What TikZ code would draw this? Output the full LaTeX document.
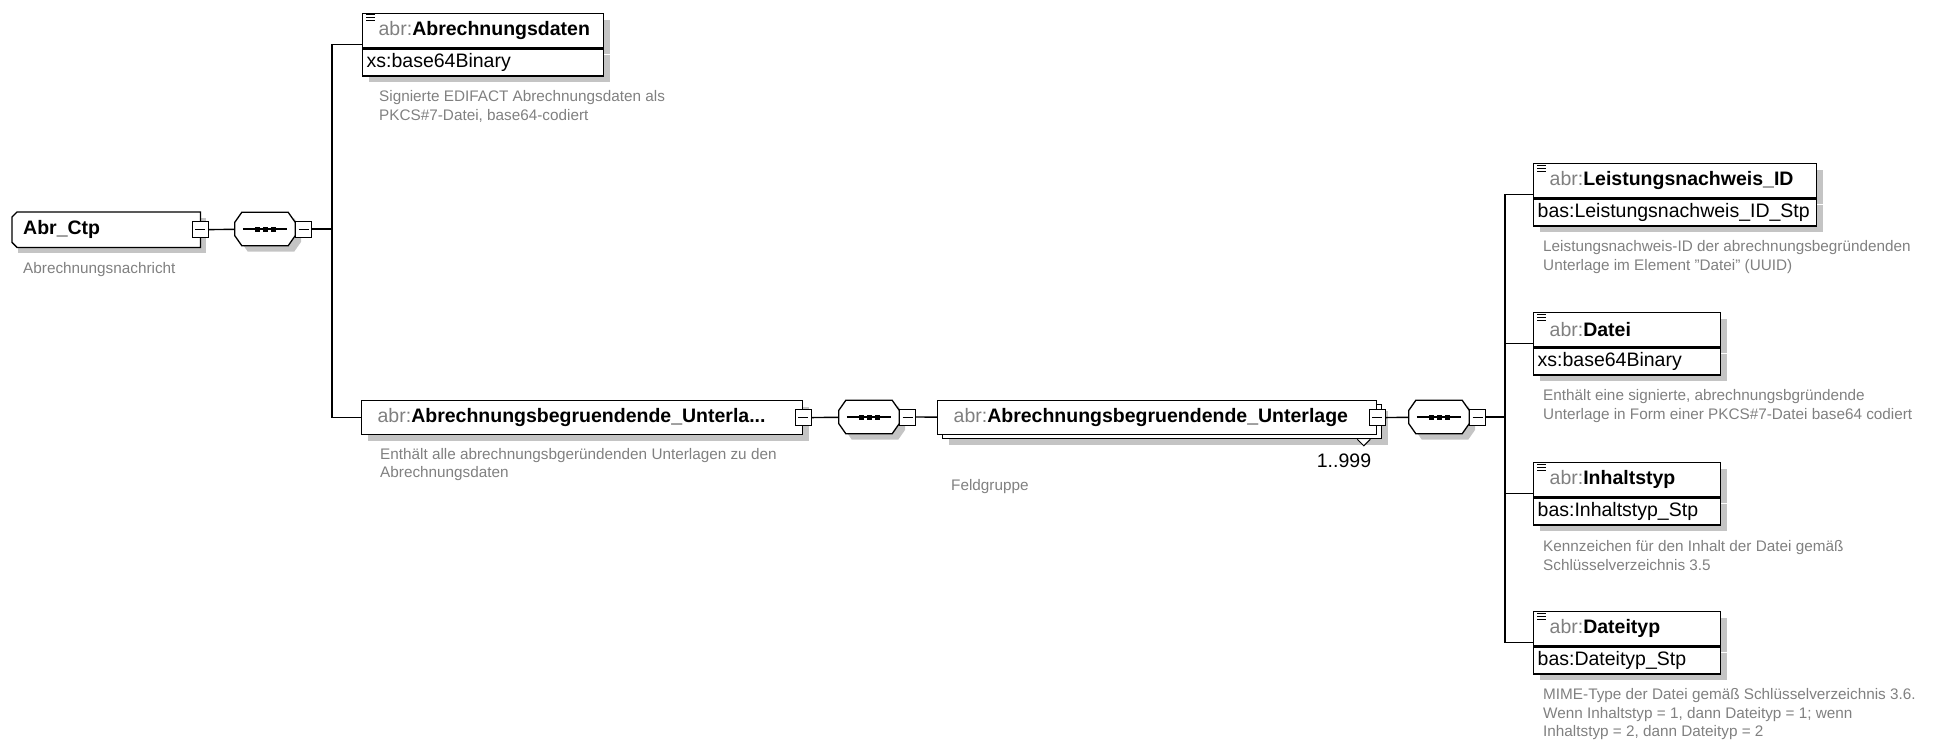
\documentclass[tikz,border=0pt]{standalone}
\usepackage{fontspec}
\setmainfont{Liberation Sans}
\usetikzlibrary{positioning,shadows}

\definecolor{descgray}{RGB}{128,128,128}
\definecolor{shadowgray}{RGB}{196,196,196}
\newcommand{\boxfont}{\fontsize{19.5}{23}\selectfont}
\newcommand{\descfont}{\fontsize{15.3}{18.3}\selectfont}
\newcommand{\abr}[1]{{\color{descgray}abr:}\textbf{#1}}

\tikzstyle{boxline}=[draw=black,line width=1.3pt]
\tikzstyle{conn}=[draw=black,line width=1.4pt]
\tikzstyle{shadowed}=[drop shadow={shadow xshift=6pt,shadow yshift=-6pt,fill=shadowgray,opacity=1}]
\tikzstyle{elbase}=[rectangle,boxline,fill=white,anchor=north west,text width=#1,inner xsep=0pt,inner ysep=0pt,minimum height=34pt,align=left,font=\boxfont,execute at begin node={\hspace*{16pt}}]
\tikzstyle{elhead}=[elbase=#1,shadowed]
\tikzstyle{eltype}=[rectangle,boxline,fill=white,shadowed,text width=#1,inner xsep=0pt,inner ysep=0pt,minimum height=27pt,align=left,font=\boxfont,execute at begin node={\hspace*{4pt}}]
\tikzstyle{rootbox}=[rectangle,fill=white,shadowed,anchor=north west,text width=188pt,inner xsep=0pt,inner ysep=0pt,minimum height=35pt,align=left,font=\boxfont\bfseries,execute at begin node={\hspace*{11pt}}]
\tikzstyle{seq}=[rectangle,minimum width=60pt,minimum height=33pt,inner sep=0pt]
\tikzstyle{btn}=[rectangle,draw=black,line width=1pt,fill=white,minimum size=16pt,inner sep=0pt,
  path picture={\draw[line width=1pt] ([xshift=3pt]path picture bounding box.west) -- ([xshift=-3pt]path picture bounding box.east);}]
\tikzstyle{desc}=[font=\descfont,text=descgray,align=left,inner sep=0pt]

\begin{document}
\begin{tikzpicture}[x=1pt,y=-1pt]
\useasboundingbox (0,0) rectangle (1934,741);

% root element
\node[rootbox] (root) at (12,212) {Abr\_Ctp};
\draw[boxline] (root.north east) -- ([xshift=5pt]root.north west) -- ([yshift=-5pt]root.north west)
  -- ([yshift=5pt]root.south west) -- ([xshift=5pt]root.south west) -- (root.south east) -- cycle;
\node[btn] (rootbtn) at (root.east) {};
\node[desc,below right=15pt and 11pt of root.south west] (rootdesc) {Abrechnungsnachricht};

% children of Abr_Ctp
\node[elhead=241pt] (daten) at (362,13) {\abr{Abrechnungsdaten}};
\node[eltype=241pt,below=0pt of daten] (datentyp) {xs:base64Binary};
\node[desc,below right=14pt and 17pt of datentyp.south west] (datendesc) {Signierte EDIFACT Abrechnungsdaten als\\PKCS\#7-Datei, base64-codiert};

\node[elhead=441pt] (unterla) at (361,400) {\abr{Abrechnungsbegruendende\_Unterla...}};
\node[btn] (unterlabtn) at (unterla.east) {};
\node[desc,below right=13pt and 19pt of unterla.south west] (unterladesc) {Enthält alle abrechnungsbgeründenden Unterlagen zu den\\Abrechnungsdaten};

% repeated group
\node[elbase=439pt,drop shadow={shadow xshift=11pt,shadow yshift=-10pt,fill=shadowgray,opacity=1},
  copy shadow={shadow xshift=5pt,shadow yshift=-4pt}] (unterlage) at (937,400) {\abr{Abrechnungsbegruendende\_Unterlage}};
\node[btn] (unterlagebtn) at (unterlage.east) {};
\draw[line width=1pt,fill=white] ([xshift=-20pt,yshift=-4pt]unterlage.south east) -- ++(6.5pt,-6.5pt) -- ++(6.5pt,6.5pt);
\node[anchor=north east,inner sep=0pt,font=\boxfont] (mult) at ([xshift=-6pt,yshift=-18pt]unterlage.south east) {1..999};
\node[desc,below right=44pt and 14pt of unterlage.south west] (unterlagedesc) {Feldgruppe};

% fields of the group
\node[elhead=283pt] (lnid) at (1533,163) {\abr{Leistungsnachweis\_ID}};
\node[eltype=283pt,below=0pt of lnid] (lnidtyp) {bas:Leistungsnachweis\_ID\_Stp};
\node[desc,below right=14pt and 10pt of lnidtyp.south west] (lniddesc) {Leistungsnachweis-ID der abrechnungsbegründenden\\Unterlage im Element "Datei" (UUID)};

\node[elhead=187pt] (datei) at (1533,312) {\abr{Datei}};
\node[eltype=187pt,below=0pt of datei] (dateityp) {xs:base64Binary};
\node[desc,below right=14pt and 10pt of dateityp.south west] (dateidesc) {Enthält eine signierte, abrechnungsbgründende\\Unterlage in Form einer PKCS\#7-Datei base64 codiert};

\node[elhead=187pt] (ityp) at (1533,462) {\abr{Inhaltstyp}};
\node[eltype=187pt,below=0pt of ityp] (itypt) {bas:Inhaltstyp\_Stp};
\node[desc,below right=15pt and 10pt of itypt.south west] (itypdesc) {Kennzeichen für den Inhalt der Datei gemäß\\Schlüsselverzeichnis 3.5};

\node[elhead=187pt] (dtyp) at (1533,611) {\abr{Dateityp}};
\node[eltype=187pt,below=0pt of dtyp] (dtypt) {bas:Dateityp\_Stp};
\node[desc,below right=14pt and 10pt of dtypt.south west] (dtypdesc) {MIME-Type der Datei gemäß Schlüsselverzeichnis 3.6.\\Wenn Inhaltstyp = 1, dann Dateityp = 1; wenn\\Inhaltstyp = 2, dann Dateityp = 2};

% list icons
\foreach \n in {daten,lnid,datei,ityp,dtyp}
  \foreach \k in {2pt,5pt,8pt}
    \draw[line width=1pt] ([xshift=4pt,yshift=-\k]\n.north west) -- ++(9pt,0);

% sequence compositors
\node[seq] (seqa) at (265,229) {};
\node[seq] (seqb) at (869,417) {};
\node[seq] (seqc) at (1439,417) {};
\foreach \s in {seqa,seqb,seqc}{
  \draw[boxline,fill=white,shadowed] ([xshift=7pt]\s.north west) -- ([xshift=-7pt]\s.north east)
    -- ([yshift=-10pt]\s.north east) -- ([yshift=10pt]\s.south east) -- ([xshift=-7pt]\s.south east)
    -- ([xshift=7pt]\s.south west) -- ([yshift=10pt]\s.south west) -- ([yshift=-10pt]\s.north west) -- cycle;
  \draw[line width=1.3pt] ([xshift=8pt]\s.west) -- ([xshift=-8pt]\s.east);
  \foreach \d in {-8pt,0pt,8pt}
    \fill ([xshift=\d]\s.center) +(-2.5pt,-2.5pt) rectangle +(2.5pt,2.5pt);
}
\node[btn,right=0pt of seqa] (seqabtn) {};
\node[btn,right=0pt of seqb] (seqbbtn) {};
\node[btn,right=0pt of seqc] (seqcbtn) {};

% connectors
\coordinate (forka) at (332,229);
\coordinate (forkb) at (1505,417);
\draw[conn] (rootbtn) -- (seqa);
\draw[conn] (seqabtn) -- (forka);
\draw[conn] (forka) |- ([yshift=4pt]daten.south west);
\draw[conn] (forka) |- (unterla);
\draw[conn] (unterlabtn) -- (seqb);
\draw[conn] (seqbbtn) -- (unterlage);
\draw[conn] (unterlagebtn) -- (seqc);
\draw[conn] (seqcbtn) -- (forkb);
\foreach \n in {lnid,datei,ityp,dtyp}
  \draw[conn] (forkb) |- ([yshift=4pt]\n.south west);
\end{tikzpicture}
\end{document}
